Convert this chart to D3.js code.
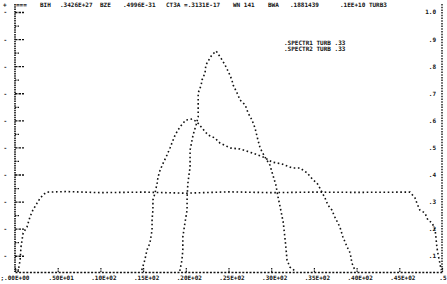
<!DOCTYPE html>
<html>
<head>
<meta charset="utf-8">
<script src="https://cdn.jsdelivr.net/npm/d3@7"></script>
<style>
  body { margin: 0; background: #fff; }
  svg { display: block; }
  text { font-family: "DejaVu Sans Mono", monospace; font-size: 6px; font-weight: bold; fill: #111; }
</style>
</head>
<body>
<div id="plot"></div>
<script>
const width = 447, height = 284;

// x ticks and their printer labels
const xTicks = [0, 5, 10, 15, 20, 25, 30, 35, 40, 45, 50];
const xTickLabels = [";.00E+00", ".50E+01", ".10E+02", ".15E+02", ".20E+02", ".25E+02",
                     ".30E+02", ".35E+02", ".40E+02", ".45E+02", ".5"];
const yTicks = [0.1, 0.2, 0.3, 0.4, 0.5, 0.6, 0.7, 0.8, 0.9, 1.0];
const yTickLabels = [".1", ".2", ".3", ".4", ".5", ".6", ".7", ".8", ".9", "1.0"];

// header line of the printout
const headerItems = [
  { x: 40, t: "BIH" }, { x: 60, t: ".3426E+27" }, { x: 100, t: "BZE" },
  { x: 123, t: ".4996E-31" }, { x: 166, t: "CT3A =.3131E-17" },
  { x: 233, t: "WN 141" }, { x: 268, t: "BWA" }, { x: 290, t: ".1881439" },
  { x: 340, t: ".1EE+10 TURB3" }
];
const legendRows = [".SPECTR1 TURB .33", ".SPECTR2 TURB .33"];

// wide trapezoid series
const seriesT = [
  [0.35, 0.04], [0.6, 0.084], [0.7, 0.132], [0.95, 0.184], [1.4, 0.206], [1.75, 0.243],
  [2.1, 0.269], [2.6, 0.295], [2.95, 0.313], [3.4, 0.328], [3.75, 0.335], [6, 0.337],
  [10, 0.333], [15, 0.335], [20, 0.331], [25, 0.336], [30, 0.333], [35, 0.335],
  [40, 0.334], [46.25, 0.335], [46.85, 0.313], [47.05, 0.295], [47.4, 0.269],
  [48.0, 0.258], [48.35, 0.232], [48.85, 0.221], [49.2, 0.195], [49.4, 0.132],
  [49.55, 0.103], [49.75, 0.073], [49.9, 0.047]
];
// middle hump series
const seriesB = [
  [14.85, 0.047], [15.2, 0.084], [15.45, 0.121], [15.8, 0.147], [16.05, 0.195],
  [16.05, 0.232], [16.15, 0.269], [16.15, 0.306], [16.4, 0.332], [16.65, 0.369],
  [16.75, 0.391], [17.0, 0.417], [17.35, 0.442], [17.8, 0.472], [18.15, 0.498],
  [18.75, 0.546], [19.3, 0.575], [20.0, 0.601], [20.75, 0.605], [21.3, 0.594],
  [21.9, 0.572], [22.6, 0.546], [23.4, 0.535], [24.0, 0.516], [25.2, 0.498],
  [26.35, 0.494], [27.85, 0.479], [29.05, 0.465], [30.1, 0.446], [31.25, 0.439],
  [32.45, 0.424], [33.35, 0.424], [34.2, 0.406], [34.9, 0.380], [35.35, 0.369],
  [35.7, 0.350], [36.3, 0.313], [36.65, 0.287], [37.1, 0.269], [37.45, 0.243],
  [38.05, 0.206], [38.4, 0.169], [38.9, 0.132], [39.25, 0.110], [39.45, 0.073],
  [39.8, 0.047]
];
// tall peak series
const seriesC = [
  [19.3, 0.044], [19.55, 0.084], [19.65, 0.121], [19.65, 0.169], [19.9, 0.221],
  [20.15, 0.269], [20.15, 0.317], [20.25, 0.369], [20.5, 0.428], [20.5, 0.490],
  [20.85, 0.546], [21.2, 0.583], [21.45, 0.612], [21.45, 0.649], [21.45, 0.675],
  [21.45, 0.701], [21.8, 0.730], [21.9, 0.749], [22.25, 0.775], [22.35, 0.804],
  [22.7, 0.823], [23.05, 0.841], [23.55, 0.856], [24.25, 0.823], [24.6, 0.804],
  [25.05, 0.775], [25.4, 0.749], [25.55, 0.730], [26.0, 0.701], [26.35, 0.675],
  [26.95, 0.657], [27.3, 0.627], [27.75, 0.601], [28.1, 0.572], [28.45, 0.527],
  [28.7, 0.498], [29.25, 0.465], [29.85, 0.435], [30.2, 0.398], [30.55, 0.361],
  [30.8, 0.317], [31.05, 0.280], [31.4, 0.225], [31.6, 0.169], [31.75, 0.121],
  [31.85, 0.084], [32.2, 0.058], [32.8, 0.044]
];

const svg = d3.select("#plot")
  .append("svg")
    .attr("width", width)
    .attr("height", height);

const xScale = d3.scaleLinear()
  .domain([0, 50])
  .range([15, 442]);

const yScale = d3.scaleLinear()
  .domain([0.04, 1.0])
  .range([272, 12]);

// bottom axis, dotted like a printer row
const bottomAxis = d3.axisBottom(xScale)
  .tickValues(xTicks)
  .tickFormat((d, i) => xTickLabels[i])
  .tickSize(-5)
  .tickPadding(4)
  .tickSizeOuter(0);

const gBottom = svg.append("g")
  .attr("transform", `translate(0, ${yScale(0.04)})`)
  .call(bottomAxis);
gBottom.select(".domain")
  .attr("stroke", "#111").attr("stroke-width", 1.5).attr("stroke-dasharray", "2 1.6");
gBottom.selectAll(".tick line").attr("stroke", "#111").attr("stroke-width", 1.2).attr("stroke-dasharray", "1.5 1");
gBottom.selectAll(".tick text").attr("dx", 3).attr("font-size", null);
gBottom.selectAll(".tick:first-of-type text").attr("text-anchor", "start").attr("dx", -15);
gBottom.selectAll(".tick:last-of-type text").attr("text-anchor", "end").attr("dx", 4);

// left axis
const leftAxis = d3.axisRight(yScale)
  .tickValues(yTicks)
  .tickFormat(() => "")
  .tickSize(9)
  .tickSizeOuter(0);

const gLeft = svg.append("g")
  .attr("transform", `translate(${xScale(0)}, 0)`)
  .call(leftAxis);
gLeft.select(".domain").attr("stroke", "#111").attr("stroke-width", 1.6).attr("stroke-dasharray", "1.5 0.8")
  .attr("d", `M0,4V${yScale(0.04)}`);
gLeft.selectAll(".tick line").attr("stroke", "#111").attr("stroke-width", 1.3).attr("stroke-dasharray", "2.5 1");

// minor ticks on the left axis
svg.append("g")
  .attr("transform", `translate(${xScale(0)}, 0)`)
  .call(d3.axisRight(yScale).tickValues(yTicks.map(v => v - 0.05)).tickFormat(() => "").tickSize(5))
  .call(g => g.select(".domain").remove())
  .call(g => g.selectAll(".tick line").attr("stroke", "#111").attr("stroke-width", 1.2).attr("stroke-dasharray", "1.5 1"));

// small marks left of the axis
svg.append("g")
  .attr("transform", `translate(${xScale(0)}, 0)`)
  .call(d3.axisLeft(yScale).tickValues(yTicks).tickFormat(() => "-").tickSize(0).tickPadding(8))
  .call(g => g.select(".domain").remove())
  .call(g => g.selectAll("text").attr("font-size", null));

// right axis with labels
const rightAxis = d3.axisLeft(yScale)
  .tickValues(yTicks)
  .tickFormat((d, i) => yTickLabels[i])
  .tickSize(0)
  .tickPadding(6)
  .tickSizeOuter(0);

const gRight = svg.append("g")
  .attr("transform", `translate(${xScale(50)}, 0)`)
  .call(rightAxis);
gRight.select(".domain").attr("stroke", "#111").attr("stroke-width", 1.4).attr("stroke-dasharray", "1.5 1.2")
  .attr("d", `M0,4V${yScale(0.04)}`);
gRight.selectAll(".tick text").attr("font-size", null);

// series drawn as dotted printer traces
const line = d3.line()
  .x(d => xScale(d[0]))
  .y(d => yScale(d[1]));

[seriesT, seriesB, seriesC].forEach(series => {
  svg.append("path")
    .datum(series)
    .attr("d", line)
    .attr("fill", "none")
    .attr("stroke", "#111")
    .attr("stroke-width", 1.6)
    .attr("stroke-dasharray", "1.6 2.6");
});

// header
svg.append("text").attr("x", 3).attr("y", 7).text("+");
svg.append("text").attr("x", 16).attr("y", 7).text("===");
svg.selectAll(".hdr")
  .data(headerItems)
  .join("text")
    .attr("class", "hdr")
    .attr("x", d => d.x)
    .attr("y", 7)
    .text(d => d.t);

// legend
svg.selectAll(".leg")
  .data(legendRows)
  .join("text")
    .attr("class", "leg")
    .attr("x", 284)
    .attr("y", (d, i) => 45 + i * 6)
    .text(d => d);
</script>
</body>
</html>
